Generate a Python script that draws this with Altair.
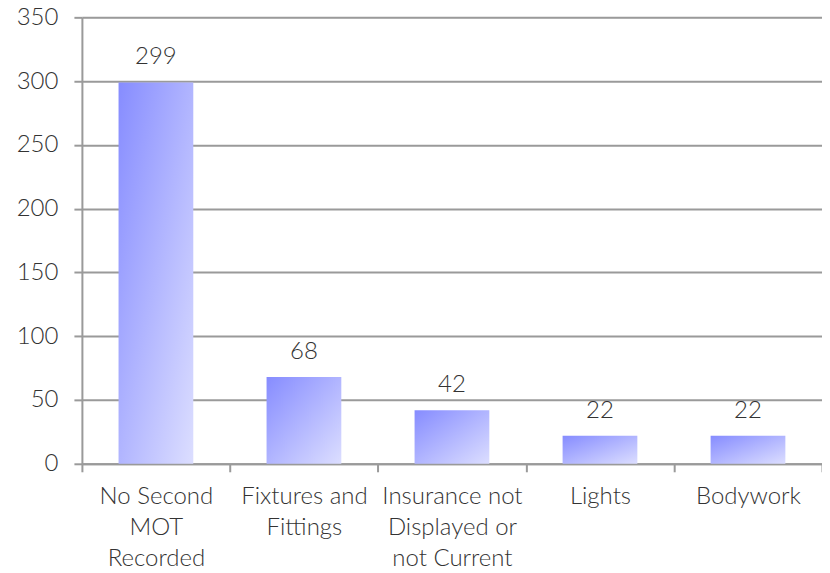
import altair as alt
import pandas as pd

categories = ["No Second\nMOT\nRecorded", "Fixtures and\nFittings",
              "Insurance not\nDisplayed or\nnot Current", "Lights", "Bodywork"]
values = [299, 68, 42, 22, 22]
y_ticks = [0, 50, 100, 150, 200, 250, 300, 350]

df = pd.DataFrame({"cat": categories, "val": values})

FONT = "Lato"
FW = 300
FS = 24
TXT = "#333333"
GRID = "#9a9a9a"

grad = alt.Gradient(
    gradient="linear",
    stops=[alt.GradientStop(color="#868cff", offset=0),
           alt.GradientStop(color="#dcdeff", offset=1)],
    x1=0, y1=0, x2=1, y2=1,
)

x = alt.X("cat:N", sort=categories, title=None,
          scale=alt.Scale(paddingInner=0, paddingOuter=0),
          axis=alt.Axis(labelAngle=0, labelExpr="split(datum.label, '\\n')",
                        labelFont=FONT, labelFontWeight=FW, labelFontSize=FS,
                        labelColor=TXT, labelLineHeight=31, labelBaseline="top",
                        tickBand="extent", tickSize=8, tickColor=GRID, tickWidth=2,
                        domainColor=GRID, domainWidth=2, labelPadding=13,
                        grid=False))
y = alt.Y("val:Q", title=None,
          scale=alt.Scale(domain=[0, 350], nice=False),
          axis=alt.Axis(values=y_ticks, labelFont=FONT, labelFontWeight=FW,
                        labelFontSize=FS, labelColor=TXT, tickSize=8,
                        tickColor=GRID, tickWidth=2, domainColor=GRID,
                        domainWidth=2, labelPadding=16,
                        grid=True, gridColor=GRID, gridWidth=2))

bars = alt.Chart(df).mark_bar(color=grad, width=alt.RelativeBandSize(0.505)).encode(x=x, y=y)
labels = alt.Chart(df).mark_text(font=FONT, fontWeight=FW, fontSize=FS, color=TXT,
                                 baseline="bottom", dy=-13).encode(
    x=alt.X("cat:N", sort=categories), y="val:Q", text="val:Q")

chart = (bars + labels).properties(
    width=741, height=447,
    autosize=alt.AutoSizeParams(type="none"),
    padding={"left": 74, "top": 9, "right": 0, "bottom": 110},
).configure_view(stroke=None).configure(background="white")

chart.save("out.html", embed_options={"renderer": "svg", "actions": False})
